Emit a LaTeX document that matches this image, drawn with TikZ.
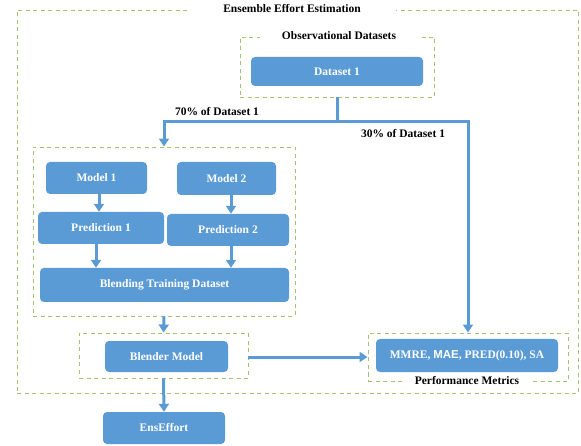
\documentclass[tikz,border=0pt]{standalone}
\usepackage{fontspec}
\setmainfont{Liberation Serif}
\newfontfamily\arialf{Liberation Sans}
\usetikzlibrary{arrows.meta}
\definecolor{nodeblue}{HTML}{5B9BD5}
\definecolor{dashgreen}{HTML}{A3C170}
\tikzset{
  bluebox/.style={fill=nodeblue, rounded corners=4pt, text=white, font=\fontsize{11.5}{13}\selectfont\bfseries, inner sep=0pt, draw=none},
  groupbox/.style={draw=dashgreen, line width=0.9pt, dash pattern=on 4pt off 3.5pt, inner sep=0pt},
  grouptitle/.style={fill=white, font=\fontsize{11.5}{13}\selectfont\bfseries, inner sep=1pt, minimum height=10pt},
  flow/.style={draw=nodeblue, line width=3pt},
  flowarrow/.style={flow, -{Triangle[width=10pt,length=8pt]}},
  plainlabel/.style={font=\fontsize{11.5}{13}\selectfont\bfseries, inner sep=0pt}
}
\begin{document}
\begin{tikzpicture}[x=1pt,y=-1pt]
\useasboundingbox (0,0) rectangle (581,446);
% group boxes
\node[groupbox, minimum width=561pt, minimum height=383pt] (outer) at (297.5,201.5) {};
\node[groupbox, minimum width=194pt, minimum height=60pt] (obs) at (337,67) {};
\node[groupbox, minimum width=262pt, minimum height=169pt] (models) at (164,231.5) {};
\node[groupbox, minimum width=169pt, minimum height=45pt] (blbox) at (163.5,355.5) {};
\node[groupbox, minimum width=200pt, minimum height=48pt] (perf) at (468,357) {};
% group titles
\node[grouptitle, minimum width=208pt] (outertitle) at (292,9) {Ensemble Effort Estimation};
\node[grouptitle, minimum width=158pt] (obstitle) at (339,36) {Observational Datasets};
\node[grouptitle, minimum width=130pt] (perftitle) at (467,381) {Performance Metrics};
% blue nodes
\node[bluebox, minimum width=172pt, minimum height=29pt] (d1) at (337,71.5) {Dataset 1};
\node[bluebox, minimum width=101pt, minimum height=32pt] (m1) at (96.5,178) {Model 1};
\node[bluebox, minimum width=99pt, minimum height=33pt] (m2) at (226.5,178.5) {Model 2};
\node[bluebox, minimum width=126pt, minimum height=32pt] (p1) at (101,228) {Prediction 1};
\node[bluebox, minimum width=122pt, minimum height=32pt] (p2) at (228,230) {Prediction 2};
\node[bluebox, minimum width=249pt, minimum height=34pt] (bt) at (164.5,285) {Blending Training Dataset};
\node[bluebox, minimum width=123pt, minimum height=31pt] (bm) at (166.5,356.5) {Blender Model};
\node[bluebox, minimum width=182pt, minimum height=33pt] (mm) at (467,355.5) {MMRE, {\arialf MAE}, PRED(0.10), SA};
\node[bluebox, minimum width=122pt, minimum height=32pt] (ee) at (164,428) {EnsEffort};
% labels
\node[plainlabel] (l70) at (217,112) {70\% of Dataset 1};
\node[plainlabel] (l30) at (403,134) {30\% of Dataset 1};
% connectors
\coordinate (split) at (337,122);
\draw[flow] (obs.south) -- (split);
\draw[flowarrow] (split) -| (models.north);
\draw[flowarrow] (split) -| (perf.north);
\draw[flowarrow] ([xshift=2.5pt]m1.south) -- ([xshift=2.5pt]m1.south |- p1.north);
\draw[flowarrow] ([xshift=4.5pt]m2.south) -- ([xshift=4.5pt]m2.south |- p2.north);
\draw[flowarrow] ([xshift=-5pt]p1.south) -- ([xshift=-5pt]p1.south |- bt.north);
\draw[flowarrow] ([xshift=3pt]p2.south) -- ([xshift=3pt]p2.south |- bt.north);
\draw[flowarrow] (models.south) -- (blbox.north);
\draw[flowarrow] (blbox.south) -- (ee.north);
\draw[flowarrow] ([yshift=-1.5pt]blbox.east) -- ([yshift=-1.5pt]blbox.east -| perf.west);
\end{tikzpicture}
\end{document}
